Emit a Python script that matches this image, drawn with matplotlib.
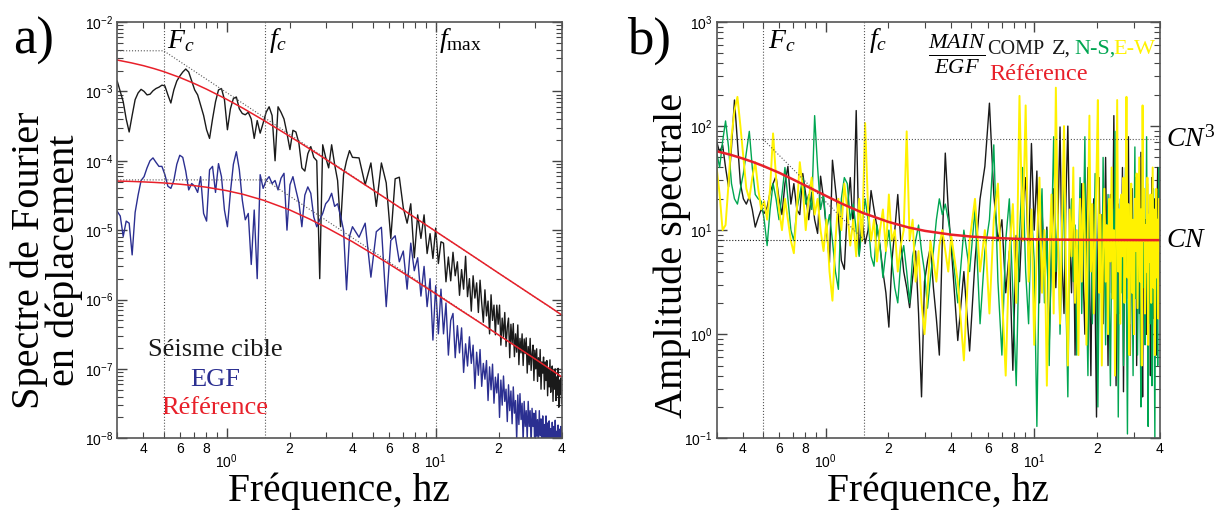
import numpy as np
import matplotlib
matplotlib.use('Agg')
import matplotlib.pyplot as plt
from matplotlib.ticker import LogLocator, FuncFormatter, NullFormatter, FixedLocator

plt.rcParams['font.family'] = 'Liberation Serif'
plt.rcParams['mathtext.fontset'] = 'custom'
plt.rcParams['mathtext.rm'] = 'Liberation Serif'
plt.rcParams['mathtext.it'] = 'Liberation Serif:italic'
plt.rcParams['mathtext.sf'] = 'Liberation Sans'

# frequency grids of the spectra (Hz)
freq_lo = np.geomspace(0.3, 4.0, 80)
freq_hi = np.linspace(4.3, 40.0, 120)

# a) target quake (black) and EGF (blue) displacement spectra
target_lo = [1.4e-3, 1.0e-3, 7.1e-4, 4.0e-4, 2.6e-4, 4.5e-4, 7.6e-4, 9.5e-4, 1.07e-3, 1.0e-3,
             8.9e-4, 9.1e-4, 1.02e-3, 1.1e-3, 1.15e-3, 1.23e-3, 1.2e-3, 8.9e-4, 6.8e-4, 1.05e-3,
             1.41e-3, 1.66e-3, 1.9e-3, 2.1e-3, 1.9e-3, 1.41e-3, 1.05e-3, 8.9e-4, 6.3e-4, 4.5e-4,
             2.8e-4, 2.1e-4, 4.0e-4, 7.1e-4, 1.05e-3, 1.1e-3, 7.6e-4, 2.8e-4, 5.6e-4, 7.9e-4,
             8.3e-4, 5.6e-4, 4.8e-4, 4.6e-4, 5.0e-4, 4.0e-4, 2.1e-4, 3.8e-4, 2.5e-4, 3.5e-4,
             5.0e-4, 6.0e-4, 4.5e-4, 1.0e-4, 6.0e-4, 5.0e-4, 4.0e-4, 2.5e-4, 1.45e-4, 2.75e-4,
             2.6e-4, 1.8e-4, 7.9e-5, 7.1e-5, 1.26e-4, 1.6e-4, 1.12e-4, 1.0e-4, 2.0e-6, 1.7e-4,
             1.12e-4, 7.9e-5, 1.7e-4, 8.9e-5, 5.2e-5, 1.12e-5, 6.3e-5, 1.0e-4, 1.4e-4, 1.12e-4]
target_hi = [1.1e-4, 4.5e-5, 9.3e-5, 2.2e-5, 9.3e-5, 4.8e-5, 7.6e-6, 5.5e-5, 5.8e-5, 2.1e-5,
             1.26e-5, 2.4e-5, 4.0e-6, 1.66e-5, 7.6e-6, 1.66e-5, 4.6e-6, 8.9e-6, 3.9e-6, 1.07e-5,
             3.3e-6, 6.8e-6, 6.5e-6, 1.8e-6, 4.1e-6, 1.86e-6, 4.8e-6, 2.2e-6, 3.5e-6, 1.15e-6,
             2.7e-6, 1.41e-6, 4.2e-6, 1.1e-6, 2.0e-6, 6.8e-7, 2.2e-6, 1.05e-6, 1.74e-6, 6.5e-7,
             1.9e-6, 8.9e-7, 4.7e-7, 1.38e-6, 5.8e-7, 9.5e-7, 3.2e-7, 1.17e-6, 5.0e-7, 8.3e-7,
             3.1e-7, 8.3e-7, 4.4e-7, 8.3e-7, 2.2e-7, 5.4e-7, 2.9e-7, 6.5e-7, 2.1e-7, 4.0e-7,
             5.4e-7, 1.45e-7, 4.4e-7, 2.3e-7, 4.5e-7, 1.5e-7, 3.2e-7, 1.74e-7, 4.3e-7, 1.15e-7,
             2.75e-7, 1.7e-7, 3.2e-7, 1.12e-7, 2.7e-7, 1.66e-7, 2.8e-7, 8.7e-8, 2.1e-7, 1.15e-7,
             2.75e-7, 9.5e-8, 1.62e-7, 2.2e-7, 6.8e-8, 1.86e-7, 1.0e-7, 1.95e-7, 6.6e-8, 1.45e-7,
             7.8e-8, 1.9e-7, 5.1e-8, 1.26e-7, 8.7e-8, 1.48e-7, 5.1e-8, 1.26e-7, 6.8e-8, 1.32e-7,
             4.1e-8, 1.0e-7, 5.5e-8, 1.35e-7, 4.6e-8, 7.9e-8, 1.1e-7, 3.4e-8, 9.3e-8, 5.1e-8,
             1.0e-7, 3.5e-8, 7.6e-8, 4.2e-8, 1.02e-7, 2.8e-8, 6.9e-8, 4.3e-8, 7.4e-8, 3.2e-8]
egf_lo = [1.86e-5, 1.6e-5, 8.1e-6, 1.35e-5, 1.26e-5, 4.4e-6, 1.8e-5, 3.2e-5, 5.2e-5, 5.9e-5,
          7.9e-5, 1.0e-4, 1.1e-4, 9.5e-5, 8.3e-5, 8.3e-5, 6.3e-5, 4.3e-5, 4.0e-5, 5.2e-5,
          8.9e-5, 1.2e-4, 1.12e-4, 7.1e-5, 3.8e-5, 4.7e-5, 4.3e-5, 3.5e-5, 5.9e-5, 1.74e-5,
          1.35e-5, 7.4e-5, 8.3e-5, 3.5e-5, 9.1e-5, 5.9e-5, 1.95e-5, 1.12e-5, 3.5e-5, 8.9e-5,
          1.35e-4, 7.4e-5, 2.7e-5, 1.41e-5, 1.74e-5, 3.2e-6, 1.95e-5, 2.0e-6, 6.3e-5, 4.0e-5,
          5.2e-5, 5.9e-5, 4.7e-5, 5.2e-5, 3.8e-5, 5.6e-5, 6.6e-5, 1.0e-5, 4.5e-5, 5.9e-5,
          3.8e-5, 2.5e-5, 1.12e-5, 3.2e-5, 4.2e-5, 3.4e-5, 1.55e-5, 1.12e-5, 1.41e-5, 1.74e-5,
          2.4e-5, 2.7e-5, 3.4e-5, 2.2e-5, 2.4e-5, 1.6e-5, 1.0e-5, 1.38e-6, 8.1e-6, 1.12e-5]
egf_hi = [7.9e-6, 1.26e-5, 2.1e-6, 9.5e-6, 1.1e-5, 7.9e-7, 7.1e-6, 8.3e-6, 3.5e-6, 5.0e-6,
          1.41e-6, 6.5e-6, 2.6e-6, 4.0e-6, 1.12e-6, 3.0e-6, 7.9e-7, 2.0e-6, 2.6e-7, 1.58e-6,
          3.2e-7, 1.41e-6, 3.2e-7, 8.9e-7, 1.58e-7, 5.0e-7, 6.3e-7, 1.45e-7, 4.2e-7, 1.7e-7,
          3.9e-7, 8.9e-8, 2.3e-7, 1.1e-7, 2.9e-7, 1.2e-7, 2.2e-7, 5.2e-8, 1.74e-7, 8.1e-8,
          1.9e-7, 5.6e-8, 1.2e-7, 7.1e-8, 1.32e-7, 3.5e-8, 1.07e-7, 5.0e-8, 1.17e-7, 3.2e-8,
          7.6e-8, 4.5e-8, 8.5e-8, 2.0e-8, 6.9e-8, 3.0e-8, 7.9e-8, 3.4e-8, 5.1e-8, 1.74e-8,
          5.9e-8, 2.5e-8, 4.8e-8, 1.62e-8, 5.5e-8, 2.3e-8, 3.5e-8, 9.5e-9, 4.2e-8, 1.58e-8,
          4.4e-8, 1.86e-8, 3.2e-8, 8.7e-9, 3.4e-8, 1.48e-8, 2.5e-8, 9.8e-9, 3.4e-8, 1.48e-8,
          2.5e-8, 7.8e-9, 2.7e-8, 1.48e-8, 2.3e-8, 6.3e-9, 2.5e-8, 1.07e-8, 1.86e-8, 7.2e-9,
          2.5e-8, 1.1e-8, 1.9e-8, 5.2e-9, 2.1e-8, 9.1e-9, 1.58e-8, 6.2e-9, 2.1e-8, 9.5e-9,
          1.66e-8, 5.1e-9, 1.78e-8, 8.9e-9, 1.38e-8, 4.3e-9, 1.7e-8, 7.4e-9, 1.48e-8, 5.1e-9,
          1.82e-8, 7.9e-9, 1.26e-8, 4.4e-9, 1.55e-8, 6.8e-9, 1.35e-8, 4.7e-9, 1.48e-8, 7.2e-9]

# reference (model) curves
ref_freq = [0.3, 0.35, 0.4, 0.45, 0.5, 0.6, 0.7, 0.8, 1.0, 1.2, 1.5, 2, 2.5, 3, 4, 5, 6, 8,
            10, 13, 16, 20, 25, 30, 35, 40]
ref_target = [2.83e-3, 2.58e-3, 2.35e-3, 2.13e-3, 1.93e-3, 1.58e-3, 1.30e-3, 1.08e-3, 7.7e-4,
              5.7e-4, 3.85e-4, 2.26e-4, 1.48e-4, 1.04e-4, 5.9e-5, 3.81e-5, 2.66e-5, 1.50e-5,
              9.6e-6, 5.7e-6, 3.76e-6, 2.40e-6, 1.54e-6, 1.07e-6, 7.9e-7, 6.0e-7]
ref_egf = [5.10e-5, 5.04e-5, 4.96e-5, 4.88e-5, 4.79e-5, 4.59e-5, 4.38e-5, 4.16e-5, 3.71e-5,
           3.28e-5, 2.70e-5, 1.96e-5, 1.44e-5, 1.09e-5, 6.8e-6, 4.54e-6, 3.24e-6, 1.87e-6,
           1.21e-6, 7.2e-7, 4.80e-7, 3.08e-7, 1.98e-7, 1.38e-7, 1.01e-7, 7.7e-8]
ref_ratio = [57.3, 53.0, 48.8, 45.0, 41.5, 35.5, 30.6, 26.8, 21.4, 17.9, 14.7, 12.0, 10.6, 9.83,
             9.05, 8.67, 8.47, 8.27, 8.17, 8.11, 8.08, 8.05, 8.04, 8.03, 8.02, 8.02]

# asymptotes (dotted)
asym_freq = [0.3, 0.5, 40]
asym_target = [3.85e-3, 3.85e-3, 6.0e-7]
asym_egf_freq = [0.3, 1.53, 40]
asym_egf = [5.3e-5, 5.3e-5, 7.75e-8]
Fc, fc, fmax = 0.5, 1.53, 10.0
CN3, CN = 75.0, 8.0

# b) spectral ratios MAIN/EGF
z_lo = [71, 56, 66, 40, 26, 63, 178, 71, 28, 20,
        17.8, 21, 15.8, 10.7, 13.2, 15.8, 14.5, 16.6, 23, 28,
        33, 20, 14.1, 28, 41, 17.8, 28, 15.8, 14.1, 35,
        22, 12.6, 23, 12.6, 9.3, 33, 20, 10, 4.9, 47,
        25, 13.5, 5.1, 4.2, 15.8, 32, 10, 141, 5.9, 12.6,
        7.4, 10, 24, 15.8, 10.7, 7.1, 4.0, 2.5, 1.17, 5.0,
        10, 22, 7.9, 4.0, 2.8, 1.8, 3.5, 6.3, 1.58, 0.25,
        3.2, 5.0, 6.9, 2.8, 1.41, 0.63, 7.9, 55, 15.8, 6.9]
z_hi = [0.87, 4.0, 0.69, 5.0, 20, 41, 166, 22, 7.9, 12.6,
        2.5, 6.3, 0.45, 8.9, 3.2, 15.8, 32, 5.0, 68, 10,
        37, 2.0, 15.8, 4.0, 10.7, 0.79, 6.3, 25, 2.8, 12.6,
        98, 5.0, 1.58, 20, 100, 7.9, 2.5, 15.8, 0.63, 7.1,
        1.7, 12.6, 28, 3.2, 1.0, 10, 40, 4.0, 0.4, 7.9,
        20, 2.0, 0.16, 6.3, 32, 3.2, 14.1, 1.26, 7.9, 50,
        5.0, 0.5, 8.9, 22, 2.5, 10, 126, 4.0, 0.32, 6.3,
        17.8, 1.58, 12.6, 4.0, 40, 0.28, 5.0, 20, 2.2, 10,
        79, 3.2, 0.63, 7.9, 25, 2.0, 12.6, 4.0, 32, 0.5,
        6.3, 15.8, 1.58, 10, 56, 2.5, 0.25, 7.9, 20, 3.2,
        12.6, 1.0, 28, 5.0, 2.0, 15.8, 0.4, 7.1, 32, 2.8,
        10, 1.41, 20, 4.0, 0.63, 12.6, 40, 2.5, 7.9, 17.8]
ns_lo = [56, 40, 71, 112, 63, 28, 20, 17.8, 25, 35,
         56, 89, 40, 22, 20, 19, 12.6, 7.1, 15.8, 28,
         20, 12.6, 22, 40, 20, 10, 7.9, 15.8, 22, 32,
         17.8, 22, 15.8, 126, 40, 15.8, 22, 10, 14.1, 7.9,
         4.0, 2.7, 20, 32, 28, 12.6, 17.8, 10, 5.6, 11.2,
         20, 12.6, 5.6, 4.5, 11.2, 7.1, 3.5, 6.3, 10, 5.0,
         2.8, 2.0, 5.0, 7.1, 4.0, 2.0, 5.6, 7.9, 11.2, 6.3,
         4.0, 1.78, 3.5, 6.3, 12.6, 20, 14.1, 17.8, 12.6, 7.9]
ns_hi = [2.0, 10, 4.0, 15.8, 1.26, 6.3, 12.6, 66, 3.2, 0.63,
         7.9, 20, 2.5, 0.32, 8.9, 40, 4.0, 1.26, 15.8, 5.0,
         0.13, 6.3, 25, 2.0, 10, 0.5, 7.9, 79, 4.0, 14.1,
         1.0, 5.6, 28, 2.2, 0.25, 7.9, 20, 3.2, 11.2, 0.63,
         5.0, 32, 1.58, 8.9, 79, 2.5, 0.4, 7.1, 17.8, 1.26,
         5.0, 35, 2.8, 0.2, 4.0, 12.6, 1.78, 50, 6.3, 0.79,
         8.9, 22, 2.0, 0.32, 5.6, 15.8, 3.2, 89, 1.58, 7.9,
         0.16, 4.0, 20, 2.5, 10, 0.5, 7.1, 40, 2.0, 0.11,
         5.0, 14.1, 1.26, 28, 3.5, 0.4, 7.9, 63, 2.2, 10,
         0.63, 4.5, 20, 1.58, 0.2, 6.3, 32, 2.8, 11.2, 0.79,
         4.0, 79, 2.0, 0.13, 5.6, 15.8, 1.26, 8.9, 0.32, 3.5,
         25, 1.78, 0.1, 6.3, 22, 2.5, 0.5, 7.9, 40, 3.2]
ew_lo = [40, 22, 10, 11.2, 28, 79, 141, 191, 100, 50,
         25, 20, 32, 45, 25, 15.8, 19, 12.6, 25, 85,
         32, 15.8, 10, 20, 12.6, 7.9, 6.0, 15.8, 45, 25,
         10, 20, 32, 14.1, 20, 10, 6.3, 12.6, 4.0, 2.1,
         7.9, 20, 10, 28, 15.8, 7.1, 12.6, 5.6, 20, 7.9,
         107, 15.8, 7.9, 12.6, 5.0, 10, 15.8, 6.3, 22, 7.9,
         10, 4.0, 7.1, 10, 89, 7.9, 12.6, 3.2, 6.3, 2.0,
         1.0, 2.5, 7.9, 5.0, 3.2, 7.1, 10, 6.3, 4.0, 8.9]
ew_hi = [3.2, 0.56, 7.9, 20, 4.0, 10, 1.58, 12.6, 28, 2.5,
         0.4, 6.3, 17.8, 2.0, 195, 7.9, 158, 3.2, 15.8, 0.79,
         7.1, 32, 2.5, 10, 0.32, 5.0, 22, 1.58, 234, 8.9,
         1.26, 12.6, 100, 4.0, 0.5, 15.8, 5.6, 40, 2.0, 10,
         0.63, 20, 3.2, 28, 7.9, 0.79, 12.6, 126, 4.0, 17.8,
         1.58, 8.9, 35, 178, 2.5, 14.1, 0.5, 6.3, 25, 3.2,
         11.2, 1.0, 20, 5.0, 40, 2.2, 10, 0.4, 7.9, 178,
         4.0, 15.8, 1.26, 22, 5.6, 32, 2.0, 11.2, 191, 3.5,
         17.8, 0.63, 8.9, 28, 2.5, 12.6, 1.0, 20, 6.3, 35,
         1.78, 10, 50, 3.2, 15.8, 0.5, 158, 7.9, 25, 1.58,
         11.2, 4.0, 32, 0.79, 14.1, 5.0, 22, 2.0, 10, 40,
         2.8, 15.8, 0.63, 8.9, 25, 3.5, 12.6, 1.41, 20, 6.3]

freq = np.concatenate([freq_lo, freq_hi])
BLACK = '#1a1a1a'
BLUE = '#2b2f91'
RED = '#e8202a'
GREEN = '#00a651'
YELLOW = '#fff200'
DOT = '#555555'


def dec_fmt(v, pos):
    return r'$\mathsf{10^{%d}}$' % int(round(np.log10(v)))


def minor_fmt(v, pos):
    d = int(round(v / 10 ** np.floor(np.log10(v) + 1e-9)))
    return str(d) if d in (2, 4, 6, 8) else ''


def style_axes(ax, ylo, yhi):
    ax.set_xscale('log')
    ax.set_yscale('log')
    ax.set_xlim(0.3, 40)
    ax.set_ylim(ylo, yhi)
    ax.xaxis.set_major_locator(FixedLocator([1, 10]))
    ax.xaxis.set_major_formatter(FuncFormatter(dec_fmt))
    ax.xaxis.set_minor_locator(LogLocator(base=10, subs=np.arange(2, 10)))
    ax.xaxis.set_minor_formatter(FuncFormatter(minor_fmt))
    ax.yaxis.set_major_locator(LogLocator(base=10, numticks=20))
    ax.yaxis.set_major_formatter(FuncFormatter(dec_fmt))
    ax.yaxis.set_minor_locator(LogLocator(base=10, subs=np.arange(2, 10), numticks=20))
    ax.yaxis.set_minor_formatter(NullFormatter())
    ax.tick_params(which='both', direction='in', top=True, right=True,
                   color='#444444', labelsize=10, labelfontfamily='Liberation Sans')
    ax.tick_params(which='major', length=7, width=1.0)
    ax.tick_params(which='minor', length=4, width=0.8)
    ax.tick_params(axis='x', which='major', pad=10)
    ax.tick_params(axis='x', which='minor', pad=3)
    ax.tick_params(axis='y', which='major', pad=3)
    for s in ax.spines.values():
        s.set_color('#555555')
        s.set_linewidth(1.2)
    ax.set_xlabel('Fréquence, hz', fontsize=28.5)
    ax.xaxis.set_label_coords(0.5, -0.082)


fig = plt.figure(figsize=(12.24, 5.12), dpi=100)
ax1 = fig.add_axes([0.0958, 0.144, 0.363, 0.813])
ax2 = fig.add_axes([0.5855, 0.144, 0.362, 0.813])

# ---- a) ----
ax1.plot(freq, target_lo + target_hi, color=BLACK, lw=1.0)
ax1.plot(freq, egf_lo + egf_hi, color=BLUE, lw=1.0)
for x in (Fc, fc, fmax):
    ax1.axvline(x, color=DOT, ls=':', lw=0.8)
ax1.plot(asym_freq, asym_target, color=DOT, ls=':', lw=0.8)
ax1.plot(asym_egf_freq, asym_egf, color=DOT, ls=':', lw=0.8)
ax1.plot(ref_freq, ref_target, color=RED, lw=1.1)
ax1.plot(ref_freq, ref_egf, color=RED, lw=1.1)
style_axes(ax1, 1e-8, 1e-2)
fig.text(0.038, 0.492, 'Spectre de Fourier\nen déplacement', fontsize=29, linespacing=0.92,
         rotation=90, ha='center', va='center', multialignment='center')
ax1.text(0.52, 0.955, r'$F_c$', transform=ax1.get_xaxis_transform(), fontsize=20, va='center')
ax1.text(1.6, 0.955, r'$f_c$', transform=ax1.get_xaxis_transform(), fontsize=20, va='center')
ax1.text(10.4, 0.955, r'$f_{\rm max}$', transform=ax1.get_xaxis_transform(), fontsize=20, va='center')
ax1.text(0.22, 0.212, 'Séisme cible', transform=ax1.transAxes, fontsize=19, color=BLACK, ha='center', va='center')
ax1.text(0.22, 0.14, 'EGF', transform=ax1.transAxes, fontsize=19, color=BLUE, ha='center', va='center')
ax1.text(0.22, 0.073, 'Référence', transform=ax1.transAxes, fontsize=19, color=RED, ha='center', va='center')
fig.text(0.011, 0.92, 'a)', fontsize=38, va='center')

# ---- b) ----
ax2.plot(freq, z_lo + z_hi, color=BLACK, lw=1.0)
ax2.plot(freq, ns_lo + ns_hi, color=GREEN, lw=1.0)
ax2.plot(freq, ew_lo + ew_hi, color=YELLOW, lw=1.4)
for x in (Fc, fc):
    ax2.axvline(x, color=DOT, ls=':', lw=0.8)
ax2.axhline(CN3, color=DOT, ls=':', lw=0.8)
ax2.axhline(CN, color=BLACK, ls=':', lw=0.8)
ax2.plot([Fc, fc], [CN3, CN], color=DOT, ls=':', lw=0.8)
ax2.plot(ref_freq, ref_ratio, color=RED, lw=1.8)
style_axes(ax2, 0.1, 1000)
fig.text(0.549, 0.502, 'Amplitude spectrale', fontsize=29, rotation=90, ha='center', va='center')
ax2.text(0.53, 0.955, r'$F_c$', transform=ax2.get_xaxis_transform(), fontsize=20, va='center')
ax2.text(1.62, 0.955, r'$f_c$', transform=ax2.get_xaxis_transform(), fontsize=20, va='center')
ax2.text(1.015, CN3, r'$CN^3$', transform=ax2.get_yaxis_transform(), fontsize=20, va='center')
ax2.text(1.015, CN, r'$CN$', transform=ax2.get_yaxis_transform(), fontsize=20, va='center')
ax2.text(0.542, 0.922, r'$\frac{MAIN}{EGF}$', transform=ax2.transAxes, fontsize=23, ha='center', va='center')
ax2.text(0.611, 0.935, 'COMP', transform=ax2.transAxes, fontsize=14.5, color=BLACK, va='center')
ax2.text(0.757, 0.935, 'Z,', transform=ax2.transAxes, fontsize=16, color=BLACK, va='center')
ax2.text(0.807, 0.935, 'N-S,', transform=ax2.transAxes, fontsize=16, color=GREEN, va='center')
ax2.text(0.895, 0.935, 'E-W', transform=ax2.transAxes, fontsize=16, color=YELLOW, va='center')
ax2.text(0.615, 0.873, 'Référence', transform=ax2.transAxes, fontsize=17.5, color=RED, va='center')
fig.text(0.512, 0.92, 'b)', fontsize=38, va='center')

fig.savefig('out.png', dpi=100)
